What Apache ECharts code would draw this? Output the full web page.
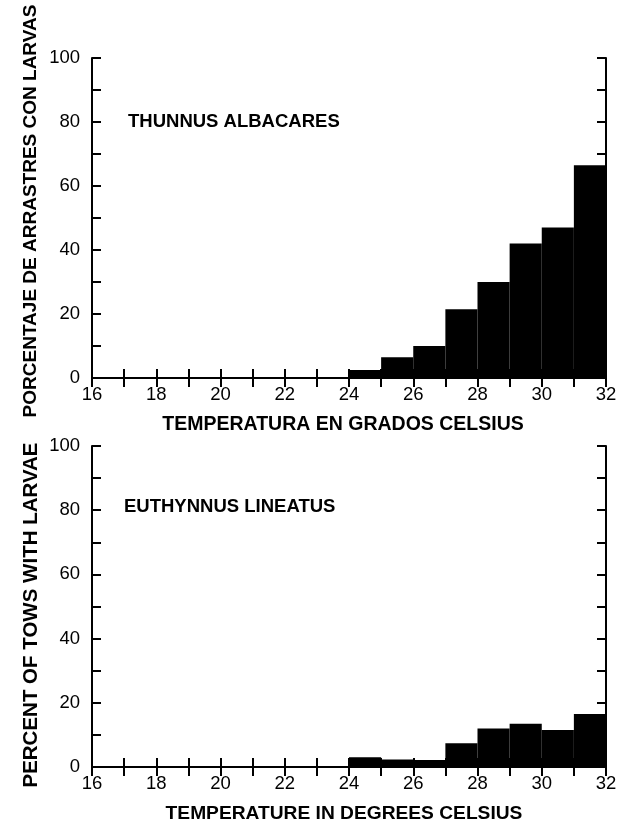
<!DOCTYPE html>
<html>
<head>
<meta charset="utf-8">
<script src="https://cdn.jsdelivr.net/npm/echarts@6/dist/echarts.min.js"></script>
<style>
  html, body { margin: 0; padding: 0; background: #fff; }
  #chart { width: 621px; height: 825px; }
</style>
</head>
<body>
<div id="chart"></div>
<script>
// Temperature classes (lower bound of each 1 °C class, °C)
const binStartC = [16, 17, 18, 19, 20, 21, 22, 23, 24, 25, 26, 27, 28, 29, 30, 31];
// Percent of tows with larvae in each temperature class
const albacaresPct = [0, 0, 0, 0, 0, 0, 0, 0, 2.5, 6.5, 10, 21.5, 30, 42, 47, 66.5];
const lineatusPct  = [0, 0, 0, 0, 0, 0, 0, 0, 3, 2.3, 2.2, 7.4, 12, 13.5, 11.5, 16.5];
// Tick labels
const xTickLabels = ['16', '18', '20', '22', '24', '26', '28', '30', '32'];
const yTickLabels = ['0', '20', '40', '60', '80', '100'];
// Panel texts
const speciesNames = ['THUNNUS ALBACARES', 'EUTHYNNUS LINEATUS'];
const xTitles = ['TEMPERATURA EN GRADOS CELSIUS', 'TEMPERATURE IN DEGREES CELSIUS'];
const yTitles = ['PORCENTAJE DE ARRASTRES CON LARVAS', 'PERCENT OF TOWS WITH LARVAE'];

const FONT = 'Liberation Sans';
const INK = '#000';

const grids = [
  { left: 92, top: 58, width: 514, height: 320 },
  { left: 92, top: 446, width: 514, height: 321 }
];

const lineStyle = { color: INK, width: 2 };
const tickStyle = { show: true, inside: true, length: 9, lineStyle: { color: INK, width: 2 } };

function xAxes(gi, titleSize, titlePadRight) {
  const base = {
    type: 'value', gridIndex: gi, min: 16, max: 32, interval: 1,
    splitLine: { show: false },
    axisLine: { show: true, lineStyle },
    axisTick: tickStyle
  };
  return [
    Object.assign({}, base, {
      position: 'bottom',
      name: xTitles[gi], nameLocation: 'middle', nameGap: 37,
      nameTextStyle: {
        fontFamily: FONT, fontSize: titleSize, fontWeight: 'bold', color: INK,
        padding: [0, titlePadRight, 0, 0]
      },
      axisLabel: {
        show: true, margin: 7, fontFamily: FONT, fontSize: 18.5, color: INK,
        formatter: v => (xTickLabels.indexOf(String(v)) >= 0 ? String(v) : '')
      }
    }),
    Object.assign({}, base, { position: 'top', axisLabel: { show: false } })
  ];
}

function yAxes(gi) {
  const base = {
    type: 'value', gridIndex: gi, min: 0, max: 100, interval: 10,
    splitLine: { show: false },
    axisLine: { show: true, lineStyle },
    axisTick: tickStyle
  };
  return [
    Object.assign({}, base, {
      position: 'left',
      axisLabel: {
        show: true, margin: 12, fontFamily: FONT, fontSize: 18.5, color: INK,
        formatter: v => (yTickLabels.indexOf(String(v)) >= 0 ? String(v) : '')
      }
    }),
    Object.assign({}, base, { position: 'right', axisLabel: { show: false } })
  ];
}

// Each temperature class is drawn as a filled block spanning [t, t + 1]
function renderBin(params, api) {
  const t0 = api.value(0);
  const pct = api.value(1);
  const topLeft = api.coord([t0, pct]);
  const bottomRight = api.coord([t0 + 1, 0]);
  return {
    type: 'rect',
    shape: {
      x: topLeft[0], y: topLeft[1],
      width: bottomRight[0] - topLeft[0],
      height: bottomRight[1] - topLeft[1]
    },
    style: { fill: INK }
  };
}

function histSeries(gi, values) {
  return {
    type: 'custom',
    xAxisIndex: gi * 2,
    yAxisIndex: gi * 2,
    renderItem: renderBin,
    encode: { x: 0, y: 1 },
    data: binStartC.map((t, i) => [t, values[i]]),
    z: 1
  };
}

// Vertical (rotated) axis title
function yTitle(text, cy, size) {
  return {
    type: 'text', x: 31, y: cy, rotation: Math.PI / 2,
    style: {
      text, fill: INK, font: 'bold ' + size + 'px "' + FONT + '"',
      align: 'center', verticalAlign: 'middle',
      textAlign: 'center', textVerticalAlign: 'middle'
    }
  };
}

const chart = echarts.init(document.getElementById('chart'), null, { renderer: 'canvas' });
chart.setOption({
  backgroundColor: '#fff',
  animation: false,
  grid: grids,
  xAxis: [...xAxes(0, 19.5, 12), ...xAxes(1, 19.2, 10)],
  yAxis: [...yAxes(0), ...yAxes(1)],
  series: [histSeries(0, albacaresPct), histSeries(1, lineatusPct)],
  graphic: [
    { type: 'text', left: 128, top: 112,
      style: { text: speciesNames[0], font: 'bold 18.5px "' + FONT + '"', fill: INK } },
    { type: 'text', left: 124, top: 497,
      style: { text: speciesNames[1], font: 'bold 18.5px "' + FONT + '"', fill: INK } },
    yTitle(yTitles[0], 211, 19),
    yTitle(yTitles[1], 615, 20.5)
  ]
});
</script>
</body>
</html>
